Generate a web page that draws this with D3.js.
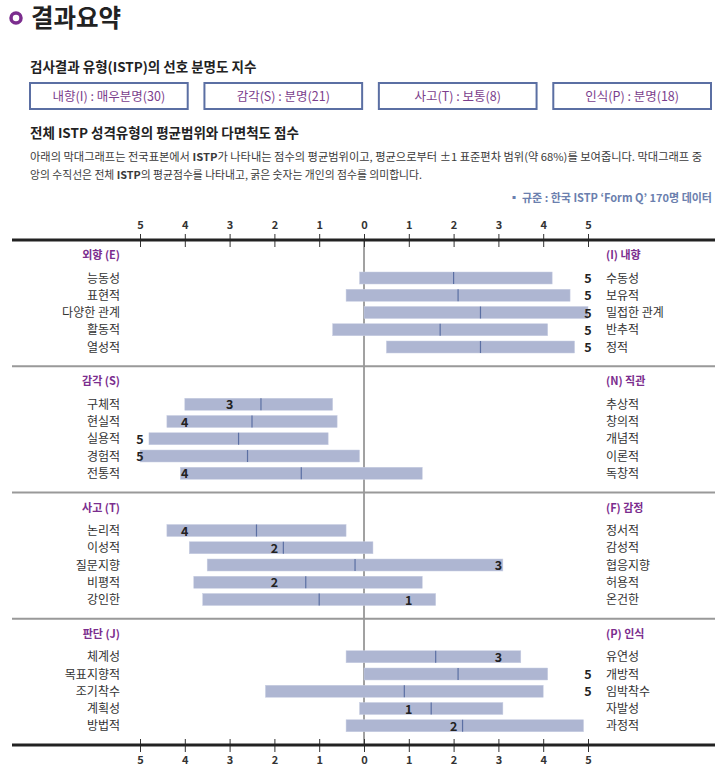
<!DOCTYPE html>
<html>
<head>
<meta charset="utf-8">
<script src="https://cdn.jsdelivr.net/npm/d3@7"></script>
<style>
  body { margin: 0; background: #fff; }
  svg text { font-family: "Noto Sans CJK KR", "Noto Sans", sans-serif; }
</style>
</head>
<body>
<svg id="chart"></svg>
<script>
// Chart data
const indexBoxes = ["내향(I) : 매우분명(30)", "감각(S) : 분명(21)", "사고(T) : 보통(8)", "인식(P) : 분명(18)"];

const leftPoles = ["외향 (E)", "감각 (S)", "사고 (T)", "판단 (J)"];
const rightPoles = ["(I) 내향", "(N) 직관", "(F) 감정", "(P) 인식"];

const leftScales = [
    "능동성", "표현적", "다양한 관계", "활동적", "열성적",
    "구체적", "현실적", "실용적", "경험적", "전통적",
    "논리적", "이성적", "질문지향", "비평적", "강인한",
    "체계성", "목표지향적", "조기착수", "계획성", "방법적"
];
const rightScales = [
    "수동성", "보유적", "밀접한 관계", "반추적", "정적",
    "추상적", "창의적", "개념적", "이론적", "독창적",
    "정서적", "감성적", "협응지향", "허용적", "온건한",
    "유연성", "개방적", "임박착수", "자발성", "과정적"
];

// mean - 1 SD, mean + 1 SD, mean (negative = left pole)
const barLow = [-0.1, -0.4, 0, -0.7, 0.5,  -4.0, -4.4, -4.8, -5.0, -4.1,  -4.4, -3.9, -3.5, -3.8, -3.6,  -0.4, 0, -2.2, -0.1, -0.4];
const barHigh = [4.2, 4.6, 5.0, 4.1, 4.7,  -0.7, -0.6, -0.8, -0.1, 1.3,  -0.4, 0.2, 3.1, 1.3, 1.6,  3.5, 4.1, 4.0, 3.1, 4.9];
const barMean = [2.0, 2.1, 2.6, 1.7, 2.6,  -2.3, -2.5, -2.8, -2.6, -1.4,  -2.4, -1.8, -0.2, -1.3, -1.0,  1.6, 2.1, 0.9, 1.5, 2.2];
// individual score (sign = side)
const scores = [5, 5, 5, 5, 5,  -3, -4, -5, -5, -4,  -4, -2, 3, -2, 1,  3, 5, 5, 1, 2];

const tickValues = [-5, -4, -3, -2, -1, 0, 1, 2, 3, 4, 5];

const width = 725, height = 770;
const purple = "#7b2d8e";
const blue = "#5b6fa3";
const barFill = "#aeb6d2";

const svg = d3.select("#chart").attr("width", width).attr("height", height);

// ---- header ----
svg.append("circle").attr("cx", 16).attr("cy", 18).attr("r", 5)
    .attr("fill", "none").attr("stroke", purple).attr("stroke-width", 3.5);
svg.append("text").attr("x", 31).attr("y", 27)
    .attr("font-size", 24.5).attr("font-weight", "bold").attr("fill", "#222")
    .text("결과요약");

svg.append("text").attr("x", 30).attr("y", 72)
    .attr("font-size", 13.5).attr("font-weight", "bold").attr("fill", "#222")
    .text("검사결과 유형(ISTP)의 선호 분명도 지수");

const boxX = d3.scaleBand().domain(indexBoxes).range([30, 719]).paddingInner(0.05);
const boxes = svg.append("g").selectAll("g").data(indexBoxes).join("g");
boxes.append("rect")
    .attr("x", d => boxX(d)).attr("y", 83)
    .attr("width", boxX.bandwidth() - 8).attr("height", 26)
    .attr("fill", "#fff").attr("stroke", blue).attr("stroke-width", 2);
boxes.append("text")
    .attr("x", d => boxX(d) + (boxX.bandwidth() - 8) / 2).attr("y", 100.5)
    .attr("text-anchor", "middle").attr("font-size", 12.5).attr("fill", "#7b3e8c")
    .text(d => d);

svg.append("text").attr("x", 30).attr("y", 138)
    .attr("font-size", 13.5).attr("font-weight", "bold").attr("fill", "#222")
    .text("전체 ISTP 성격유형의 평균범위와 다면척도 점수");

const para = [
    ["아래의 막대그래프는 전국표본에서 ", "ISTP", "가 나타내는 점수의 평균범위이고, 평균으로부터 ±1 표준편차 범위(약 68%)를 보여줍니다. 막대그래프 중"],
    ["앙의 수직선은 전체 ", "ISTP", "의 평균점수를 나타내고, 굵은 숫자는 개인의 점수를 의미합니다."]
];
para.forEach((parts, i) => {
    const t = svg.append("text").attr("x", 30).attr("y", 161 + i * 18)
        .attr("font-size", 10.8).attr("fill", "#3a3a3a");
    if (i === 0) t.attr("textLength", 672).attr("lengthAdjust", "spacingAndGlyphs");
    parts.forEach((p, j) => t.append("tspan").attr("font-weight", j === 1 ? "bold" : "normal").text(p));
});

svg.append("text").attr("x", 712).attr("y", 202)
    .attr("text-anchor", "end").attr("font-size", 11).attr("font-weight", "bold").attr("fill", "#6b7fae")
    .text("▪ 규준 : 한국 ISTP ‘Form Q’ 170명 데이터");

// ---- chart ----
const x = d3.scaleLinear().domain([-5, 5]).range([140, 588]);
const axisTopY = 240, axisBottomY = 745;
const sectionY = d3.scaleBand().domain(leftPoles).range([axisTopY, axisBottomY]);
const rowY = d3.scaleLinear().domain([0, 4]).range([38, 107]);

// center line
svg.append("line")
    .attr("x1", x(0)).attr("x2", x(0)).attr("y1", axisTopY).attr("y2", axisBottomY)
    .attr("stroke", "#444").attr("stroke-width", 1);

// separators
svg.append("g").selectAll("line").data(leftPoles.slice(1)).join("line")
    .attr("x1", 12).attr("x2", 715)
    .attr("y1", d => sectionY(d)).attr("y2", d => sectionY(d))
    .attr("stroke", "#999").attr("stroke-width", 2);

// axes
function drawAxis(y, top) {
    const axis = (top ? d3.axisTop(x) : d3.axisBottom(x))
        .tickValues(tickValues).tickFormat(d => Math.abs(d)).tickSize(7);
    const g = svg.append("g").attr("transform", `translate(0,${y})`).call(axis);
    g.select(".domain").remove();
    g.selectAll(".tick line").attr("y1", -6).attr("y2", 7).attr("stroke", "#333");
    g.selectAll(".tick text")
        .attr("font-family", "'Noto Sans CJK KR', sans-serif")
        .attr("font-size", 11).attr("font-weight", "bold").attr("fill", "#333")
        .attr("y", top ? -11 : 11);
    svg.append("line").attr("x1", 12).attr("x2", 715).attr("y1", y).attr("y2", y)
        .attr("stroke", "#222").attr("stroke-width", 3);
}
drawAxis(axisTopY, true);
drawAxis(axisBottomY, false);

// sections
const sections = svg.append("g").selectAll("g").data(leftPoles).join("g")
    .attr("transform", d => `translate(0,${sectionY(d)})`);
sections.append("text").attr("x", 120).attr("y", 19)
    .attr("text-anchor", "end").attr("font-size", 11).attr("font-weight", "bold").attr("fill", purple)
    .text(d => d);
sections.append("text").attr("x", 606).attr("y", 19)
    .attr("font-size", 11).attr("font-weight", "bold").attr("fill", purple)
    .text((d, i) => rightPoles[i]);

const rows = svg.append("g").selectAll("g").data(leftScales).join("g")
    .attr("transform", (d, i) => `translate(0,${sectionY(leftPoles[Math.floor(i / 5)]) + rowY(i % 5)})`);

rows.append("rect")
    .attr("x", (d, i) => x(barLow[i]))
    .attr("width", (d, i) => x(barHigh[i]) - x(barLow[i]))
    .attr("y", -6).attr("height", 12)
    .attr("fill", barFill).attr("stroke", "#c8cee2").attr("stroke-width", 0.5);
rows.append("line")
    .attr("x1", (d, i) => x(barMean[i])).attr("x2", (d, i) => x(barMean[i]))
    .attr("y1", -6).attr("y2", 6)
    .attr("stroke", blue).attr("stroke-width", 1.2);
rows.append("text")
    .attr("x", 120).attr("y", 4.5)
    .attr("text-anchor", "end").attr("font-size", 12).attr("fill", "#333")
    .text(d => d);
rows.append("text")
    .attr("x", 606).attr("y", 4.5)
    .attr("font-size", 12).attr("fill", "#333")
    .text((d, i) => rightScales[i]);
rows.append("text")
    .attr("x", (d, i) => x(scores[i])).attr("y", 5)
    .attr("text-anchor", "middle").attr("font-size", 12.5).attr("font-weight", "bold").attr("fill", "#222")
    .text((d, i) => Math.abs(scores[i]));
</script>
</body>
</html>
